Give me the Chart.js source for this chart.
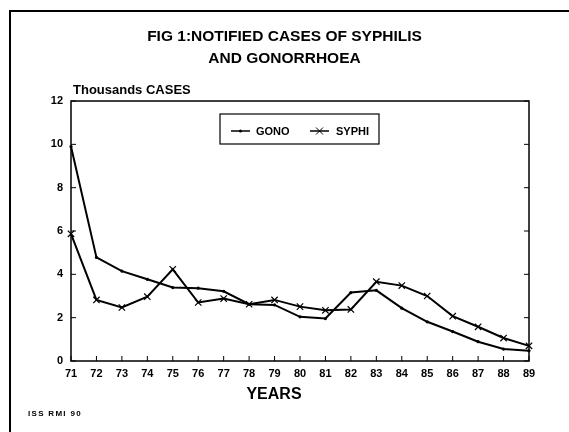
<!DOCTYPE html>
<html>
<head>
<meta charset="utf-8">
<script src="https://cdn.jsdelivr.net/npm/chart.js@4.4.1/dist/chart.umd.min.js"></script>
<style>
html,body{margin:0;padding:0;background:#fff;}
#wrap{width:569px;height:432px;position:relative;}
</style>
</head>
<body>
<div id="wrap"><canvas id="c" width="569" height="432"></canvas></div>
<script>
const years = ['71','72','73','74','75','76','77','78','79','80','81','82','83','84','85','86','87','88','89'];
const gono  = [9.9,4.78,4.15,3.77,3.39,3.36,3.22,2.62,2.59,2.04,1.96,3.16,3.26,2.44,1.81,1.36,0.89,0.55,0.47];
const syphi = [5.87,2.82,2.47,2.97,4.23,2.70,2.88,2.62,2.82,2.51,2.34,2.38,3.66,3.48,3.0,2.07,1.58,1.06,0.70];
const seriesNames = ['GONO','SYPHI'];
const titleLines = ['FIG 1:NOTIFIED CASES OF SYPHILIS','AND GONORRHOEA'];
const yUnitLabel = 'Thousands CASES';
const xAxisLabel = 'YEARS';
const footnote = 'ISS RMI 90';

const FONT = '"Liberation Sans", Arial, Helvetica, sans-serif';
Chart.defaults.font.family = FONT;
Chart.defaults.color = '#000';

const decor = {
  id: 'decor',
  afterDraw(chart) {
    const ctx = chart.ctx;
    const a = chart.chartArea;
    const xs = chart.scales.x, ys = chart.scales.y;
    ctx.save();
    // page frame (top and left)
    ctx.strokeStyle = '#000';
    ctx.lineWidth = 2;
    ctx.beginPath();
    ctx.moveTo(10, 432); ctx.lineTo(10, 11); ctx.lineTo(569, 11);
    ctx.stroke();
    // plot box
    ctx.lineWidth = 1.5;
    ctx.strokeRect(a.left, a.top, a.right - a.left, a.bottom - a.top);
    // x ticks (inward)
    ctx.lineWidth = 1;
    ctx.beginPath();
    for (let i = 0; i < years.length; i++) {
      const px = xs.getPixelForTick(i);
      ctx.moveTo(px, a.bottom); ctx.lineTo(px, a.bottom - 5);
    }
    // y ticks (inward both sides)
    ys.ticks.forEach((t, i) => {
      const py = ys.getPixelForTick(i);
      ctx.moveTo(a.left, py); ctx.lineTo(a.left + 5, py);
      ctx.moveTo(a.right, py); ctx.lineTo(a.right - 5, py);
    });
    ctx.stroke();
    ctx.fillStyle = '#000';
    ctx.textBaseline = 'middle';
    // x axis title
    ctx.font = 'bold 16px ' + FONT;
    ctx.textAlign = 'center';
    ctx.fillText(xAxisLabel, 274, 395);
    // unit label
    ctx.font = 'bold 13px ' + FONT;
    ctx.textAlign = 'left';
    ctx.fillText(yUnitLabel, 73, 90);
    // footnote
    ctx.font = 'bold 8px ' + FONT;
    try { ctx.letterSpacing = '1.3px'; } catch (e) {}
    ctx.fillText(footnote, 28, 414);
    try { ctx.letterSpacing = '0px'; } catch (e) {}
    // legend box
    ctx.lineWidth = 1.2;
    ctx.strokeRect(220, 114, 159, 30);
    const ly = 131;
    const items = [
      {x0: 231, x1: 250, tx: 256, ds: chart.data.datasets[0]},
      {x0: 310, x1: 329, tx: 336, ds: chart.data.datasets[1]}
    ];
    ctx.font = 'bold 11px ' + FONT;
    items.forEach(it => {
      ctx.lineWidth = 1.5;
      ctx.beginPath(); ctx.moveTo(it.x0, ly); ctx.lineTo(it.x1, ly); ctx.stroke();
      const cx = (it.x0 + it.x1) / 2;
      if (it.ds.pointStyle === 'crossRot') {
        ctx.lineWidth = 1;
        ctx.beginPath();
        ctx.moveTo(cx - 3.5, ly - 3.5); ctx.lineTo(cx + 3.5, ly + 3.5);
        ctx.moveTo(cx + 3.5, ly - 3.5); ctx.lineTo(cx - 3.5, ly + 3.5);
        ctx.stroke();
      } else {
        ctx.beginPath(); ctx.arc(cx, ly, 1.5, 0, Math.PI * 2); ctx.fill();
      }
      ctx.fillText(it.ds.label, it.tx, ly + 0.5);
    });
    ctx.restore();
  }
};

new Chart(document.getElementById('c'), {
  type: 'line',
  data: {
    labels: years,
    datasets: [
      {label: seriesNames[0], data: gono, borderColor: '#000', backgroundColor: '#000', borderWidth: 2,
       pointStyle: 'circle', pointRadius: 1.6, pointBorderWidth: 0, pointBackgroundColor: '#000', tension: 0, clip: false},
      {label: seriesNames[1], data: syphi, borderColor: '#000', backgroundColor: '#000', borderWidth: 2,
       pointStyle: 'crossRot', pointRadius: 4.5, pointBorderWidth: 1.2, pointBorderColor: '#000', tension: 0, clip: false}
    ]
  },
  options: {
    responsive: false,
    animation: false,
    events: [],
    layout: {padding: {left: 0, right: 0, top: 0, bottom: 0}},
    plugins: {
      legend: {display: false},
      tooltip: {enabled: false},
      title: {
        display: true,
        text: titleLines,
        color: '#000',
        font: {size: 15.5, weight: 'bold', lineHeight: 1.42},
        padding: {top: 26, bottom: 31}
      }
    },
    scales: {
      x: {
        type: 'category',
        offset: false,
        grid: {display: false, drawTicks: false},
        border: {display: false},
        ticks: {font: {size: 11, weight: 'bold'}, color: '#000', padding: 6, maxRotation: 0, autoSkip: false},
        afterFit(s) { s.height = 71; }
      },
      y: {
        min: 0, max: 12,
        grid: {display: false, drawTicks: false},
        border: {display: false},
        ticks: {stepSize: 2, font: {size: 11, weight: 'bold'}, color: '#000', padding: 8},
        afterFit(s) { s.width = 71; }
      },
      yRight: {
        position: 'right',
        min: 0, max: 12,
        grid: {display: false, drawTicks: false},
        border: {display: false},
        ticks: {display: false},
        afterFit(s) { s.width = 40; }
      }
    }
  },
  plugins: [decor]
});
</script>
</body>
</html>
